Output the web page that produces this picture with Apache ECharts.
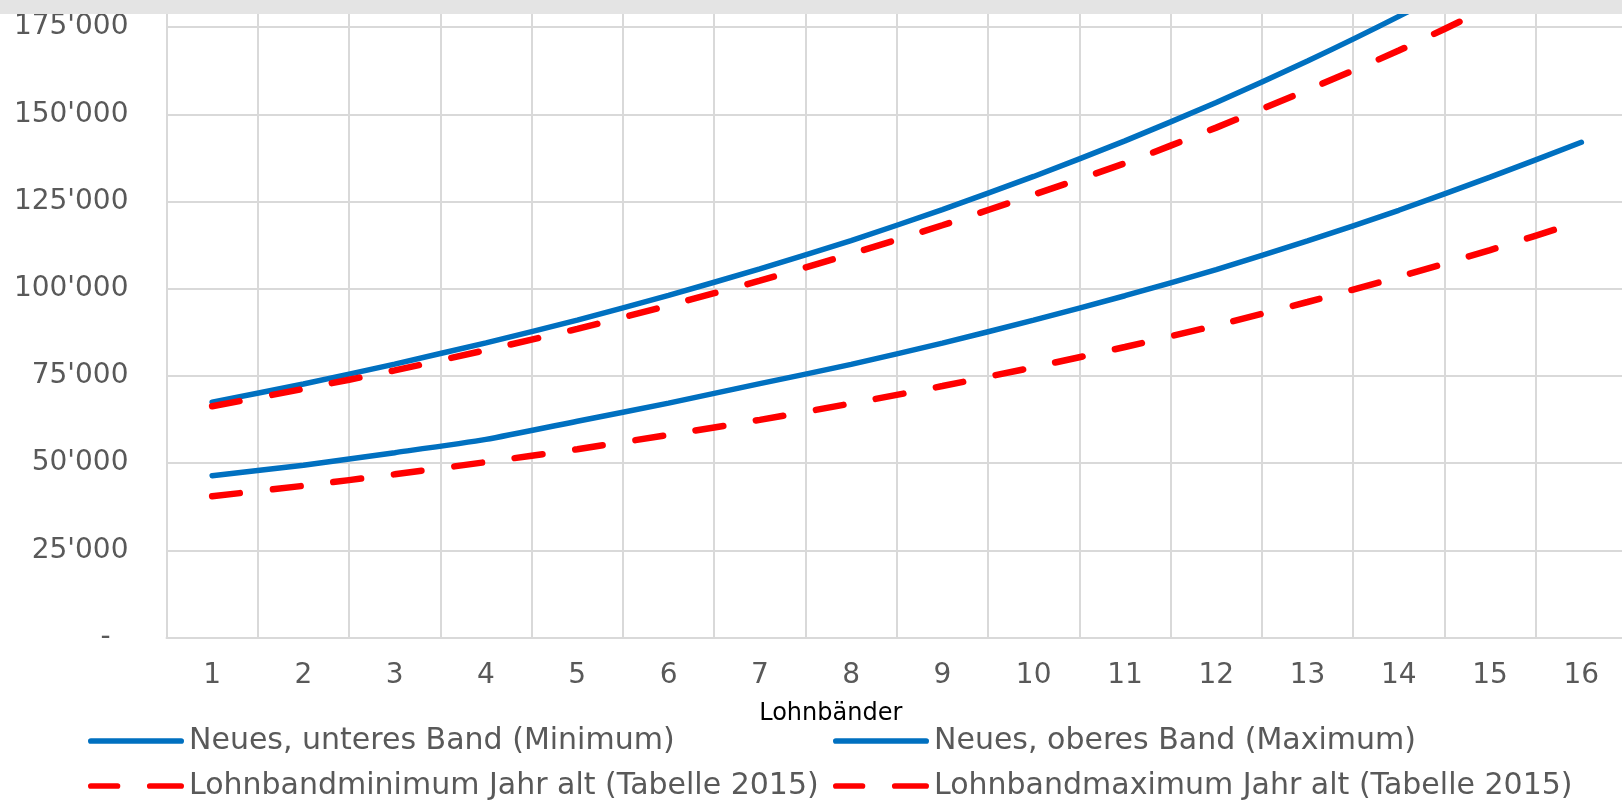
<!DOCTYPE html>
<html>
<head>
<meta charset="utf-8">
<script src="https://cdn.jsdelivr.net/npm/echarts@6/dist/echarts.min.js"></script>
<style>
html,body{margin:0;padding:0;background:#fff;overflow:hidden;width:1622px;height:808px;}
#chart{position:absolute;left:0;top:-74px;width:1630px;height:882px;}
</style>
</head>
<body>
<div id="chart"></div>
<script>
const categories = ['1','2','3','4','5','6','7','8','9','10','11','12','13','14','15','16'];
const yTicks = [0, 25000, 50000, 75000, 100000, 125000, 150000, 175000, 200000];
const neuMin = [46400, 49400, 53000, 56800, 62000, 67200, 72800, 78300, 84400, 91000, 98000, 105500, 113700, 122500, 132000, 142000];
const neuMax = [67500, 72700, 78400, 84500, 91000, 98100, 105700, 113800, 122700, 132200, 142400, 153400, 165300, 178100, 191900, 206800];
const altMin = [40500, 43500, 46800, 50300, 54000, 58100, 62400, 67100, 72100, 77500, 83300, 89500, 96200, 103400, 111100, 119400];
const altMax = [66300, 71300, 76600, 82400, 88500, 95200, 102300, 110000, 118200, 127000, 136000, 146200, 157000, 168300, 180800, 194000];
const names = [
  'Neues, unteres Band (Minimum)',
  'Neues, oberes Band (Maximum)',
  'Lohnbandminimum Jahr alt (Tabelle 2015)',
  'Lohnbandmaximum Jahr alt (Tabelle 2015)'
];

const FONT = 'DejaVu Sans';
const GREY = '#595959';
const GRID = '#d9d9d9';
const BLUE = '#0070C0';
const RED = '#FF0000';
const OFF = 74; // chart div is shifted up by this many pixels

const SOLID_ICON = 'path://M3,0L98,0A3,3,0,0,1,98,6L3,6A3,3,0,0,1,3,0Z';
const DASH_ICON = 'path://M3,0L31,0A3,3,0,0,1,31,6L3,6A3,3,0,0,1,3,0ZM65,0L98,0A3,3,0,0,1,98,6L65,6A3,3,0,0,1,65,0Z';

function fmt(v) {
  if (v === 0) return '-  ';
  return String(v).replace(/\B(?=(\d{3})+(?!\d))/g, "'");
}

function legendItem(name, left, centerY, icon) {
  return {
    data: [{ name: name, icon: icon }],
    left: left,
    top: centerY + OFF - 17,
    padding: 0,
    itemWidth: 96,
    itemHeight: 6,
    itemStyle: { borderWidth: 0 },
    textStyle: { fontFamily: FONT, fontSize: 30, color: GREY, lineHeight: 34 }
  };
}

const chart = echarts.init(document.getElementById('chart'));
chart.setOption({
  animation: false,
  backgroundColor: '#fff',
  grid: { left: 166.5, right: 3, top: 14, bottom: 170.5, containLabel: false },
  xAxis: {
    type: 'category',
    data: categories,
    boundaryGap: true,
    name: 'Lohnbänder',
    nameLocation: 'middle',
    nameGap: 64,
    nameTextStyle: { fontFamily: FONT, fontSize: 24, color: '#000', padding: [0, 132, 0, 0] },
    axisLine: { show: true, lineStyle: { color: GRID, width: 2 } },
    axisTick: { show: false },
    axisLabel: { fontFamily: FONT, fontSize: 28, color: GREY, margin: 24 },
    splitLine: { show: true, lineStyle: { color: GRID, width: 2 } }
  },
  yAxis: {
    type: 'value',
    min: yTicks[0],
    max: yTicks[yTicks.length - 1],
    interval: yTicks[1] - yTicks[0],
    axisLine: { show: false },
    axisTick: { show: false },
    axisLabel: { fontFamily: FONT, fontSize: 28, color: GREY, margin: 38, formatter: fmt },
    splitLine: { show: true, lineStyle: { color: GRID, width: 2 } }
  },
  legend: [
    legendItem(names[0], 88, 741, SOLID_ICON),
    legendItem(names[1], 833, 741, SOLID_ICON),
    legendItem(names[2], 88, 786, DASH_ICON),
    legendItem(names[3], 833, 786, DASH_ICON)
  ],
  graphic: [
    { type: 'rect', z: 100, shape: { x: 0, y: 0, width: 1630, height: OFF + 14 }, style: { fill: '#e4e4e4' } }
  ],
  series: [
    { name: names[0], type: 'line', data: neuMin, symbol: 'none', smooth: 0.2,
      lineStyle: { color: BLUE, width: 5.5, cap: 'round' }, itemStyle: { color: BLUE } },
    { name: names[1], type: 'line', data: neuMax, symbol: 'none', smooth: 0.2,
      lineStyle: { color: BLUE, width: 5.5, cap: 'round' }, itemStyle: { color: BLUE } },
    { name: names[2], type: 'line', data: altMin, symbol: 'none', smooth: 0.2,
      lineStyle: { color: RED, width: 6.5, type: [28, 33], cap: 'round' }, itemStyle: { color: RED } },
    { name: names[3], type: 'line', data: altMax, symbol: 'none', smooth: 0.2,
      lineStyle: { color: RED, width: 6.5, type: [28, 33], cap: 'round' }, itemStyle: { color: RED } }
  ]
});
</script>
</body>
</html>
